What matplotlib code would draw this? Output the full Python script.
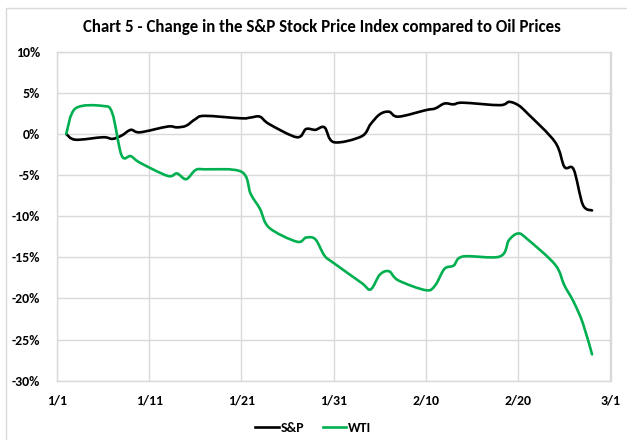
import numpy as np
import pandas as pd
import matplotlib
matplotlib.use("Agg")
import matplotlib.pyplot as plt
import matplotlib.dates as mdates
from matplotlib.path import Path
from matplotlib.patches import PathPatch, Rectangle
from matplotlib.lines import Line2D
from matplotlib.ticker import FuncFormatter, MultipleLocator

plt.rcParams['font.family'] = ['Carlito', 'Lato', 'DejaVu Sans']

dates = ['2020-01-02', '2020-01-03', '2020-01-06', '2020-01-07', '2020-01-08',
         '2020-01-09', '2020-01-10', '2020-01-13', '2020-01-14', '2020-01-15',
         '2020-01-16', '2020-01-17', '2020-01-21', '2020-01-22', '2020-01-23',
         '2020-01-24', '2020-01-27', '2020-01-28', '2020-01-29', '2020-01-30',
         '2020-01-31', '2020-02-03', '2020-02-04', '2020-02-05', '2020-02-06',
         '2020-02-07', '2020-02-10', '2020-02-11', '2020-02-12', '2020-02-13',
         '2020-02-14', '2020-02-18', '2020-02-19', '2020-02-20', '2020-02-21',
         '2020-02-24', '2020-02-25', '2020-02-26', '2020-02-27', '2020-02-28']

sp = [0.0, -0.7, -0.4, -0.6, -0.2, 0.5, 0.2, 0.9, 0.8, 1.0,
      1.8, 2.2, 1.9, 2.0, 2.1, 1.2, -0.4, 0.6, 0.5, 0.8,
      -1.0, -0.3, 1.2, 2.4, 2.7, 2.1, 2.9, 3.1, 3.7, 3.6,
      3.8, 3.5, 3.9, 3.5, 2.5, -1.0, -4.0, -4.3, -8.6, -9.3]

wti = [0.0, 3.1, 3.4, 2.5, -2.6, -2.7, -3.5, -5.1, -4.8, -5.5,
       -4.4, -4.3, -4.6, -7.3, -9.1, -11.4, -13.1, -12.6, -12.8, -14.8,
       -15.7, -18.1, -18.9, -17.1, -16.7, -17.8, -19.0, -18.4, -16.4, -16.0,
       -14.9, -14.9, -12.9, -12.1, -12.8, -15.9, -18.4, -20.4, -23.0, -26.8]

series_names = ['S&P', 'WTI']
series_colors = ['#000000', '#00B050']
title = 'Chart 5 - Change in the S&P Stock Price Index compared to Oil Prices'


def smooth_path(x, y):
    P = np.column_stack([x, y]).astype(float)
    n = len(P)
    verts = [P[0]]
    codes = [Path.MOVETO]
    for i in range(n - 1):
        p0 = P[i - 1] if i > 0 else P[i]
        p1 = P[i]
        p2 = P[i + 1]
        p3 = P[i + 2] if i + 2 < n else P[i + 1]
        c1 = p1 + (p2 - p0) / 6.0
        c2 = p2 - (p3 - p1) / 6.0
        verts += [c1, c2, p2]
        codes += [Path.CURVE4] * 3
    return Path(np.array(verts), codes)


fig = plt.figure(figsize=(6.27, 4.4), dpi=100)
ax = fig.add_axes([57 / 627, 1 - 380.7 / 440, (610.5 - 57) / 627, (380.7 - 51.7) / 440])

xd = mdates.date2num(pd.to_datetime(dates))
grid_c = '#d9d9d9'
for vals, col in zip([sp, wti], series_colors):
    patch = PathPatch(smooth_path(xd, vals), facecolor='none', edgecolor=col,
                      lw=1.9, capstyle='round', joinstyle='round', zorder=3)
    ax.add_patch(patch)

x0 = mdates.date2num(pd.Timestamp('2020-01-01'))
x1 = mdates.date2num(pd.Timestamp('2020-03-01'))
ax.set_xlim(x0, x1)
ax.set_ylim(-30, 10)
ax.set_xticks(np.arange(x0, x1 + 0.5, 10))
ax.xaxis.set_major_formatter(FuncFormatter(
    lambda v, p: f"{mdates.num2date(v).month}/{mdates.num2date(v).day}"))
ax.yaxis.set_major_locator(MultipleLocator(5))
ax.yaxis.set_major_formatter(FuncFormatter(lambda v, p: f"{v:.0f}%"))
ax.grid(True, color=grid_c, lw=1.0)
ax.set_axisbelow(True)
for s in ax.spines.values():
    s.set_color(grid_c)
    s.set_linewidth(1.0)
ax.tick_params(axis='both', length=0, labelsize=10)
ax.tick_params(axis='x', pad=10)
ax.tick_params(axis='y', pad=12)
for lab in ax.get_xticklabels() + ax.get_yticklabels():
    lab.set_fontweight('bold')

fig.text(0.513, 1 - 27 / 440, title, ha='center', va='center',
         fontsize=12.2, fontweight='bold')

handles = [Line2D([], [], color=c, lw=1.9) for c in series_colors]
leg = fig.legend(handles, series_names, loc='center', bbox_to_anchor=(0.5, 1 - 427.5 / 440),
                 ncol=2, frameon=False, handlelength=1.7, handletextpad=0.15,
                 columnspacing=1.3, prop={'weight': 'bold', 'size': 10})

fig.patches.append(Rectangle((6 / 627, -0.1), 1.2, 1 - 8 / 440 + 0.1,
                             transform=fig.transFigure, fill=False,
                             ec='#d9d9d9', lw=1.0))

fig.savefig('out.png', dpi=100)
